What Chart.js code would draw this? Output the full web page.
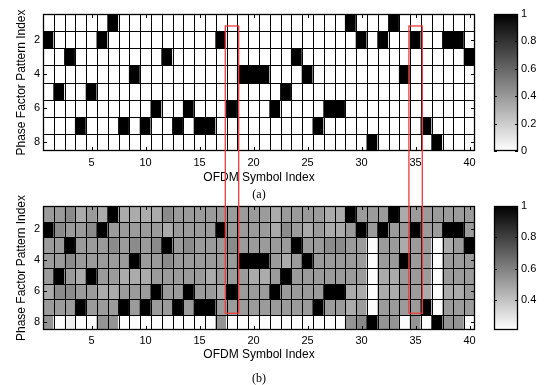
<!DOCTYPE html>
<html><head><meta charset="utf-8">
<script src="https://cdn.jsdelivr.net/npm/chart.js@4.4.0/dist/chart.umd.min.js"></script>
<style>
html,body{margin:0;padding:0;background:#fff;width:546px;height:385px;overflow:hidden;}
canvas{position:absolute;}
.lab{position:absolute;width:100px;text-align:center;font:12px "Liberation Serif","Times New Roman",serif;line-height:14px;color:#000;}
</style></head><body>
<canvas id="hA" width="546" height="195" style="left:0;top:0"></canvas>
<canvas id="cA" width="66" height="195" style="left:480px;top:0"></canvas>
<canvas id="hB" width="546" height="190" style="left:0;top:195px"></canvas>
<canvas id="cB" width="66" height="190" style="left:480px;top:195px"></canvas>
<canvas id="ov" width="546" height="385" style="left:0;top:0;pointer-events:none"></canvas>
<div class="lab" style="left:209px;top:187px">(a)</div>
<div class="lab" style="left:209px;top:371px">(b)</div>
<script>
// ---------- data ----------
const symbols = ['1','2','3','4','5','6','7','8','9','10','11','12','13','14','15','16','17','18','19','20',
                 '21','22','23','24','25','26','27','28','29','30','31','32','33','34','35','36','37','38','39','40'];
const patterns = [1,2,3,4,5,6,7,8];
const symbolTicks = [5,10,15,20,25,30,35,40];
const patternTicks = [2,4,6,8];
const colorbarTicksA = [0,0.2,0.4,0.6,0.8,1];
const colorbarTicksB = [0.4,0.6,0.8,1];
const rangeA = [0,1];
const rangeB = [0.21,1];
// (a) selected phase factor pattern per OFDM symbol
const selectedPattern = [2,5,3,7,5,2,1,7,4,7,6,3,7,6,7,7,2,6,4,4,4,6,5,3,4,7,6,6,1,2,8,2,1,4,2,7,8,2,2,3];
// (b) values per pattern row
const probRow1 = [0.52,0.52,0.57,0.47,0.52,0.47,1,0.47,0.47,0.47,0.47,0.57,0.52,0.52,0.52,0.52,0.52,0.52,0.52,0.52,0.52,0.47,0.52,0.52,0.52,0.52,0.47,0.47,1,0.52,0.52,0.52,1,0.47,0.52,0.52,0.52,0.52,0.52,0.52];
const probRow2 = [1,0.57,0.52,0.52,0.57,1,0.52,0.52,0.52,0.52,0.52,0.47,0.52,0.52,0.52,0.52,1,0.52,0.52,0.52,0.52,0.47,0.57,0.52,0.47,0.52,0.47,0.47,0.52,1,0.52,1,0.52,0.52,1,0.52,0.52,1,1,0.52];
const probRow3 = [0.52,0.52,1,0.52,0.52,0.52,0.57,0.52,0.57,0.52,0.57,1,0.52,0.57,0.52,0.52,0.52,0.57,0.52,0.52,0.52,0.52,0.52,1,0.52,0.52,0.57,0.57,0.52,0.52,0.22,0.52,0.52,0.47,0.52,0.52,0.22,0.47,0.52,1];
const probRow4 = [0.52,0.52,0.57,0.52,0.52,0.52,0.52,0.52,1,0.52,0.52,0.57,0.52,0.52,0.52,0.52,0.52,0.52,1,1,1,0.52,0.47,0.52,1,0.52,0.52,0.52,0.52,0.52,0.22,0.52,0.52,1,0.52,0.52,0.22,0.52,0.52,0.52];
const probRow5 = [0.52,1,0.52,0.47,1,0.52,0.52,0.47,0.47,0.47,0.52,0.52,0.52,0.52,0.52,0.47,0.52,0.52,0.52,0.47,0.47,0.52,1,0.52,0.52,0.52,0.52,0.52,0.52,0.52,0.22,0.47,0.47,0.52,0.52,0.52,0.22,0.52,0.52,0.52];
const probRow6 = [0.47,0.57,0.57,0.52,0.52,0.47,0.47,0.52,0.52,0.52,1,0.52,0.52,1,0.52,0.52,0.47,1,0.52,0.52,0.52,1,0.52,0.52,0.52,0.52,1,1,0.47,0.47,0.22,0.47,0.47,0.52,0.52,0.47,0.22,0.47,0.47,0.52];
const probRow7 = [0.52,0.52,0.52,1,0.52,0.52,0.52,1,0.52,1,0.52,0.52,1,0.52,1,1,0.52,0.52,0.52,0.52,0.52,0.52,0.52,0.52,0.52,1,0.52,0.52,0.47,0.52,0.22,0.52,0.52,0.52,0.52,1,0.22,0.52,0.52,0.52];
const probRow8 = [0.54,0.22,0.26,0.22,0.22,0.54,0.54,0.22,0.22,0.22,0.22,0.22,0.22,0.22,0.22,0.22,0.54,0.22,0.22,0.22,0.22,0.22,0.22,0.22,0.22,0.22,0.22,0.22,0.54,0.58,1,0.54,0.54,0.22,0.54,0.22,1,0.54,0.54,0.22];
const highlightSymbols = [18,35];

// ---------- helpers ----------
const FONT = '"Liberation Sans", Arial, sans-serif';
const matrixA = patterns.map(p => selectedPattern.map(s => (s === p ? 1 : 0)));
const matrixB = [probRow1,probRow2,probRow3,probRow4,probRow5,probRow6,probRow7,probRow8];

function grayFn(lo, hi){
  return v => {
    let t = (v - lo) / (hi - lo); t = Math.max(0, Math.min(1, t));
    const g = Math.round(255 * (1 - t));
    return `rgb(${g},${g},${g})`;
  };
}

// frame, cell boundaries and inward tick marks, all placed through the chart scales
const framePlugin = {
  id: 'frame',
  afterDatasetsDraw(chart, args, opts){
    const {ctx, chartArea: a, scales} = chart;
    const tl = opts.len || 4;
    ctx.save();
    ctx.strokeStyle = '#000'; ctx.lineWidth = 1;
    ctx.beginPath();
    if (opts.cells) {
      const n = chart.data.labels.length;
      const half = (scales.x.getPixelForValue(1) - scales.x.getPixelForValue(0)) / 2;
      for (let i = 0; i < n - 1; i++) {
        const x = Math.round(scales.x.getPixelForValue(i) + half) + 0.5;
        ctx.moveTo(x, a.top); ctx.lineTo(x, a.bottom);
      }
      for (let k = 0; k < patterns.length - 1; k++) {
        const y = Math.round(scales.y.getPixelForValue(patterns[k] + 0.5)) + 0.5;
        ctx.moveTo(a.left, y); ctx.lineTo(a.right, y);
      }
    }
    (opts.xt || []).forEach(v => {
      const x = Math.round(scales.x.getPixelForValue(v)) + 0.5;
      ctx.moveTo(x, a.top); ctx.lineTo(x, a.top + tl);
      ctx.moveTo(x, a.bottom); ctx.lineTo(x, a.bottom - tl);
    });
    (opts.yt || []).forEach(v => {
      const y = Math.round(scales.y.getPixelForValue(v)) + 0.5;
      ctx.moveTo(a.left, y); ctx.lineTo(a.left + tl, y);
      ctx.moveTo(a.right, y); ctx.lineTo(a.right - tl, y);
    });
    ctx.stroke();
    ctx.lineWidth = 1.3;
    ctx.strokeRect(Math.round(a.left) + 0.5, Math.round(a.top) + 0.5,
                   Math.round(a.width) - 1, Math.round(a.height) - 1);
    ctx.restore();
  }
};

function heatmap(id, matrix, colorFn, pad, xAxisH, tickPad, titlePadB){
  const datasets = patterns.map((p, r) => ({
    data: symbols.map(() => [p - 0.5, p + 0.5]),
    backgroundColor: matrix[r].map(colorFn),
    borderWidth: 0, grouped: false, barPercentage: 1, categoryPercentage: 1, inflateAmount: 0.5
  }));
  return new Chart(document.getElementById(id), {
    type: 'bar',
    data: { labels: symbols, datasets },
    options: {
      responsive: false, animation: false, events: [],
      layout: { padding: pad },
      plugins: {
        legend: { display: false }, tooltip: { enabled: false },
        frame: { cells: true, xt: symbolTicks.map(s => symbols.indexOf(String(s))), yt: patternTicks, len: 4 }
      },
      scales: {
        x: {
          type: 'category', offset: true,
          grid: { display: false, drawTicks: false }, border: { display: false },
          ticks: { autoSkip: false, maxRotation: 0, padding: tickPad, color: '#000',
                   font: { family: FONT, size: 11 },
                   callback: (v, i) => (symbolTicks.includes(Number(symbols[i])) ? symbols[i] : '') },
          title: { display: true, text: 'OFDM Symbol Index', color: '#000',
                   font: { family: FONT, size: 12 }, padding: { top: 0, bottom: titlePadB } },
          afterFit: s => { s.height = xAxisH; }
        },
        y: {
          type: 'linear', reverse: true, min: 0.5, max: 8.5,
          grid: { display: false, drawTicks: false }, border: { display: false },
          afterBuildTicks: s => { s.ticks = patternTicks.map(v => ({ value: v })); },
          ticks: { padding: 3, color: '#000', font: { family: FONT, size: 11 } },
          title: { display: true, text: 'Phase Factor Pattern Index', color: '#000',
                   font: { family: FONT, size: 12 }, padding: { top: 14, bottom: 0 } },
          afterFit: s => { s.width = 43; }
        }
      }
    },
    plugins: [framePlugin]
  });
}

function colorbar(id, range, ticks, pad){
  const [lo, hi] = range;
  return new Chart(document.getElementById(id), {
    type: 'bar',
    data: { labels: ['c'], datasets: [{
      data: [[lo, hi]],
      backgroundColor: c => {
        const ch = c.chart, a = ch.chartArea;
        if (!a) return '#888';
        const g = ch.ctx.createLinearGradient(0, a.bottom, 0, a.top);
        g.addColorStop(0, '#fff'); g.addColorStop(1, '#000');
        return g;
      },
      borderWidth: 0, barPercentage: 1, categoryPercentage: 1, inflateAmount: 0
    }]},
    options: {
      responsive: false, animation: false, events: [],
      layout: { padding: pad },
      plugins: { legend: { display: false }, tooltip: { enabled: false },
                 frame: { xt: [], yt: ticks, len: 3 } },
      scales: {
        x: { display: false },
        y: {
          position: 'right', min: lo, max: hi,
          grid: { display: false, drawTicks: false }, border: { display: false },
          afterBuildTicks: s => { s.ticks = ticks.map(v => ({ value: v })); },
          ticks: { padding: 3, color: '#000', font: { family: FONT, size: 11 },
                   callback: v => String(+Number(v).toFixed(1)) },
          afterFit: s => { s.width = 28; }
        }
      }
    },
    plugins: [framePlugin]
  });
}

const chartA = heatmap('hA', matrixA, grayFn(rangeA[0], rangeA[1]),
  { left: 0, right: 71, top: 14, bottom: 8 }, 36, 5, 2);
const chartB = heatmap('hB', matrixB, grayFn(rangeB[0], rangeB[1]),
  { left: 0, right: 71, top: 11, bottom: 21 }, 34, 4, 2);
colorbar('cA', rangeA, colorbarTicksA, { left: 14, right: 0, top: 14, bottom: 44 });
colorbar('cB', rangeB, colorbarTicksB, { left: 14, right: 0, top: 11, bottom: 55 });

// ---------- highlight rectangles spanning both panels ----------
const o = document.getElementById('ov').getContext('2d');
o.strokeStyle = '#ee3b3b'; o.lineWidth = 1.3;
const xs = chartA.scales.x;
const cw = xs.getPixelForValue(1) - xs.getPixelForValue(0);
const topY = chartA.scales.y.getPixelForValue(1.2);
const botY = 195 + chartB.scales.y.getPixelForValue(7.42);
highlightSymbols.forEach(s => {
  const cx = xs.getPixelForValue(symbols.indexOf(String(s)));
  o.strokeRect(cx - 0.62 * cw, topY, 1.24 * cw, botY - topY);
});
</script>
</body></html>
